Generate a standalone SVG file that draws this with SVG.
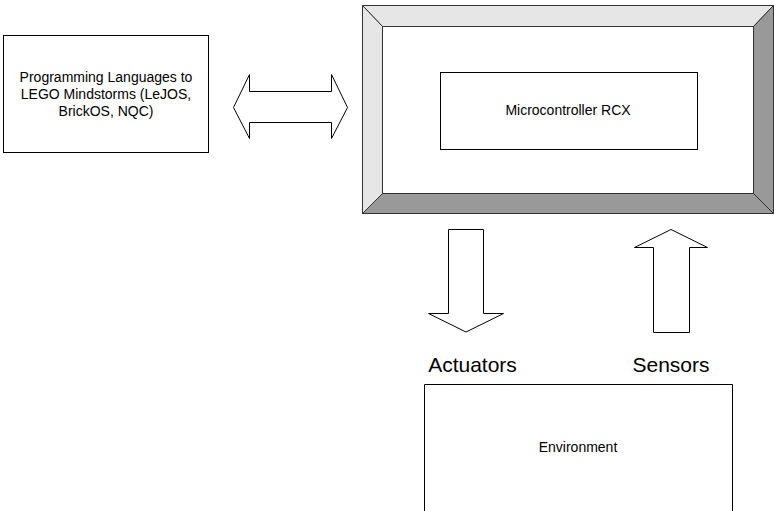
<svg xmlns="http://www.w3.org/2000/svg" width="774" height="511" viewBox="0 0 774 511">
<style>
.box{fill:#ffffff;stroke:#000000;stroke-width:1}
.arrow{fill:#ffffff;stroke:#000000;stroke-width:1;stroke-linejoin:miter}
.light{fill:#e6e6e6;stroke:#333333;stroke-width:1}
.dark{fill:#999999;stroke:#333333;stroke-width:1}
.t{font-family:"Liberation Sans",Arial,sans-serif;font-size:14px;fill:#000000;text-anchor:middle}
.big{font-family:"Liberation Sans",Arial,sans-serif;font-size:21px;fill:#000000;text-anchor:middle}
</style>
<rect width="774" height="511" fill="#ffffff"/>
<g id="languages">
<rect class="box" x="3.5" y="35.5" width="205" height="117"/>
<text class="t" x="106" y="82">Programming Languages to</text>
<text class="t" x="106" y="99">LEGO Mindstorms (LeJOS,</text>
<text class="t" x="106" y="116">BrickOS, NQC)</text>
</g>
<g id="rcx">
<polygon class="light" points="362.5,5.5 773.5,5.5 753.5,26.5 382.5,26.5"/>
<polygon class="light" points="362.5,5.5 382.5,26.5 382.5,193.5 362.5,213.5"/>
<polygon class="dark" points="773.5,5.5 773.5,213.5 753.5,193.5 753.5,26.5"/>
<polygon class="dark" points="362.5,213.5 382.5,193.5 753.5,193.5 773.5,213.5"/>
<rect x="382.5" y="26.5" width="371" height="167" fill="#ffffff" stroke="#333333" stroke-width="1"/>
<rect class="box" x="440.5" y="72.5" width="257" height="77"/>
<text class="t" x="568" y="115">Microcontroller RCX</text>
</g>
<g id="environment">
<path d="M424.5,515 V384.5 H732.5 V515" class="box"/>
<text class="t" x="578" y="452">Environment</text>
</g>
<g id="connectors">
<polygon class="arrow" points="233.5,107.5 249.5,74.5 249.5,91.5 331.5,91.5 331.5,74.5 347.5,107.5 331.5,138.5 331.5,122.5 249.5,122.5 249.5,138.5"/>
<polygon class="arrow" points="448.5,229.5 483.5,229.5 483.5,313.5 503.5,313.5 466,332 428.5,313.5 448.5,313.5"/>
<polygon class="arrow" points="671,229.5 707.5,247.5 689.5,247.5 689.5,332.5 653.5,332.5 653.5,247.5 634.5,247.5"/>
<text class="big" x="472.5" y="372">Actuators</text>
<text class="big" x="671" y="372">Sensors</text>
</g>
</svg>
